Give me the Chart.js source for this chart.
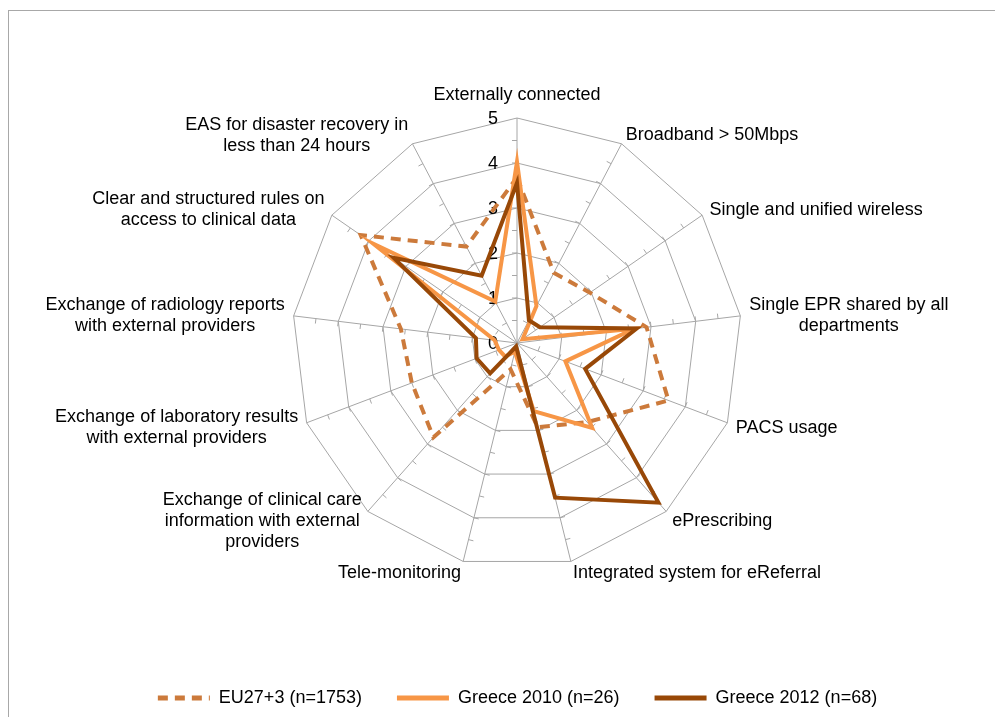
<!DOCTYPE html>
<html>
<head>
<meta charset="utf-8">
<script src="https://cdn.jsdelivr.net/npm/chart.js@4.4.0/dist/chart.umd.min.js"></script>
<style>
  html, body { margin: 0; padding: 0; background: #fff; overflow: hidden; }
  #wrap { position: relative; width: 995px; height: 717px; overflow: hidden; }
  #frame { position: absolute; left: 8px; top: 10px; width: 1000px; height: 720px;
           border: 1px solid #a8a8a8; box-sizing: border-box; }
  canvas { position: absolute; left: 0; top: 0; }
</style>
</head>
<body>
<div id="wrap">
  <div id="frame"></div>
  <canvas id="c" width="995" height="717"></canvas>
</div>
<script>
// ---- data ----
const categories = [
  ['Externally connected'],
  ['Broadband > 50Mbps'],
  ['Single and unified wireless'],
  ['Single EPR shared by all', 'departments'],
  ['PACS usage'],
  ['ePrescribing'],
  ['Integrated system for eReferral'],
  ['Tele-monitoring'],
  ['Exchange of clinical care', 'information with external', 'providers'],
  ['Exchange of laboratory results', 'with external providers'],
  ['Exchange of radiology reports', 'with external providers'],
  ['Clear and structured rules on', 'access to clinical data'],
  ['EAS for disaster recovery in', 'less than 24 hours']
];
const seriesNames = ['EU27+3 (n=1753)', 'Greece 2010 (n=26)', 'Greece 2012 (n=68)'];
const eu27 =       [3.68, 1.76, 1.97, 2.90, 3.60, 2.35, 1.93, 0.60, 2.80, 2.50, 2.60, 4.22, 2.42];
const greece2010 = [4.03, 0.93, 0.15, 2.62, 1.15, 2.52, 1.56, 0.20, 0.40, 0.43, 0.50, 3.88, 1.04];
const greece2012 = [3.56, 0.57, 0.62, 2.68, 1.62, 4.74, 3.54, 0.08, 0.90, 0.96, 0.92, 3.33, 1.69];
const tickLabels = ['0', '1', '2', '3', '4', '5'];

const gridColor = '#a6a6a6';
const textFont = '18px "Liberation Sans", Arial, sans-serif';

// ---- decorations drawn through the radial scale ----
const radarDecor = {
  id: 'radarDecor',
  beforeDatasetsDraw(chart) {
    const s = chart.scales.r;
    const ctx = chart.ctx;
    const n = chart.data.labels.length;
    ctx.save();
    // small tick marks along every spoke
    ctx.strokeStyle = gridColor;
    ctx.lineWidth = 1;
    for (let i = 0; i < n; i++) {
      const a = s.getIndexAngle(i);
      const sx = -Math.cos(a), sy = -Math.sin(a);
      for (let k = 1; k < (s.max - s.min) * 2; k++) {
        const p = s.getPointPositionForValue(i, s.min + k / 2);
        ctx.beginPath();
        ctx.moveTo(p.x, p.y);
        ctx.lineTo(p.x + sx * 5, p.y + sy * 5);
        ctx.stroke();
      }
    }
    // tick labels on the first spoke
    ctx.font = textFont;
    ctx.fillStyle = '#000';
    ctx.textAlign = 'right';
    ctx.textBaseline = 'middle';
    s.ticks.forEach((t, idx) => {
      const d = s.getDistanceFromCenterForValue(t.value);
      ctx.fillText(tickLabels[idx] ?? String(t.value), s.xCenter - 19, s.yCenter - d + 1);
    });
    // category labels around the outside
    ctx.textAlign = 'center';
    const lh = 21;
    for (let i = 0; i < n; i++) {
      const lines = chart.data.labels[i];
      const a = s.getIndexAngle(i);
      const sin = Math.sin(a), cos = Math.cos(a);
      const p = s.getPointPositionForValue(i, s.max);
      const w = Math.max(...lines.map(t => ctx.measureText(t).width));
      const blockH = lines.length * lh;
      let cx, cy;
      if (Math.abs(sin) < 0.05) {
        cx = p.x;
        cy = p.y - cos * (blockH / 2 + 12);
      } else {
        cy = p.y - cos * 11 + 1;
        const x0 = p.x + sin * 9;
        cx = sin > 0 ? x0 + w / 2 : x0 - w / 2;
      }
      lines.forEach((t, k) => {
        ctx.fillText(t, cx, cy - blockH / 2 + lh / 2 + k * lh);
      });
    }
    ctx.restore();
  }
};

const baseLabels = Chart.defaults.plugins.legend.labels.generateLabels;

new Chart(document.getElementById('c'), {
  type: 'radar',
  data: {
    labels: categories,
    datasets: [
      { label: seriesNames[0], data: eu27, borderColor: '#cc7a3b', backgroundColor: '#cc7a3b',
        borderWidth: 4, borderDash: [10, 7], fill: false, order: 3 },
      { label: seriesNames[1], data: greece2010, borderColor: '#f79646', backgroundColor: '#f79646',
        borderWidth: 4, fill: false, order: 2 },
      { label: seriesNames[2], data: greece2012, borderColor: '#984807', backgroundColor: '#984807',
        borderWidth: 4, fill: false, order: 1 }
    ]
  },
  options: {
    responsive: false,
    animation: false,
    devicePixelRatio: 1,
    layout: { padding: { top: 118, left: 40, right: 0, bottom: 0 } },
    elements: { point: { radius: 0, hoverRadius: 0 }, line: { tension: 0 } },
    scales: {
      r: {
        min: 0, max: 5,
        ticks: { display: false, stepSize: 1 },
        grid: { color: gridColor, lineWidth: 1, circular: false },
        angleLines: { color: gridColor, lineWidth: 1 },
        pointLabels: { display: false }
      }
    },
    plugins: {
      legend: {
        position: 'bottom',
        title: { display: true, text: '', font: { size: 10, lineHeight: 1 }, padding: { top: 76, bottom: 0 } },
        labels: {
          usePointStyle: true,
          pointStyle: 'line',
          pointStyleWidth: 52,
          padding: 35,
          color: '#000',
          font: { size: 18, family: '"Liberation Sans", Arial, sans-serif' },
          sort: (a, b) => a.datasetIndex - b.datasetIndex,
          generateLabels: (chart) => baseLabels(chart).map(item => {
            const ds = chart.data.datasets[item.datasetIndex];
            item.lineDash = ds.borderDash || [];
            item.lineWidth = 5;
            item.strokeStyle = ds.borderColor;
            return item;
          })
        }
      },
      tooltip: { enabled: false }
    }
  },
  plugins: [radarDecor]
});
</script>
</body>
</html>
